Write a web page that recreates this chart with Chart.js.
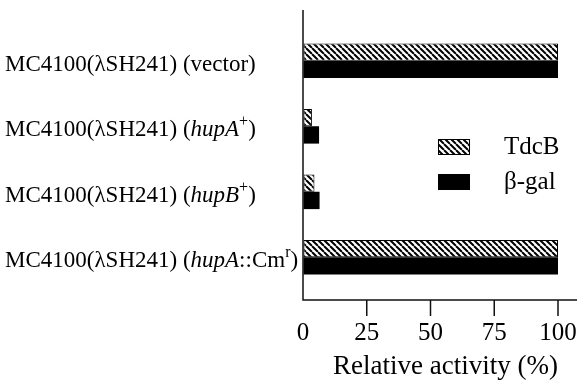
<!DOCTYPE html>
<html>
<head>
<meta charset="utf-8">
<script src="https://cdn.jsdelivr.net/npm/chart.js@4.4.1/dist/chart.umd.min.js"></script>
<style>
  body { margin: 0; background: #fff; }
</style>
</head>
<body>
<canvas id="myCanvas" width="579" height="384"></canvas>
<script>
// strains, top to bottom (<i> = italic, <sup> = superscript)
const categories = [
    'MC4100(λSH241) (vector)',
    'MC4100(λSH241) (<i>hupA</i><sup>+</sup>)',
    'MC4100(λSH241) (<i>hupB</i><sup>+</sup>)',
    'MC4100(λSH241) (<i>hupA</i>::Cm<sup>r</sup>)'
]
const seriesNames = ['TdcB', 'β-gal']
const tdcbValues = [100, 3.5, 4.5, 100]
const bgalValues = [100, 6.3, 6.5, 100]
const xTicks = [0, 25, 50, 75, 100]
const axisTitle = 'Relative activity (%)'

const FONT = '"Liberation Serif", "Times New Roman", serif'

function plain(s) {
    return s.replace(/<\/?(i|sup)>/g, '')
}

function hatch() {
    const s = 6
    const c = document.createElement('canvas')
    c.width = s
    c.height = s
    const g = c.getContext('2d')
    g.fillStyle = '#fff'
    g.fillRect(0, 0, s, s)
    g.strokeStyle = '#000'
    g.lineWidth = 2
    g.beginPath()
    for (let k = -1; k <= 1; k++) {
        g.moveTo(k * s, 0)
        g.lineTo(k * s + s, s)
    }
    g.stroke()
    return g.createPattern(c, 'repeat')
}

// draws a label with italic / superscript parts
function drawRich(ctx, str, x, y) {
    const parts = str.split(/(<i>.*?<\/i>|<sup>.*?<\/sup>)/).filter(p => p)
    ctx.textBaseline = 'middle'
    ctx.textAlign = 'left'
    parts.forEach(p => {
        let text = p, dy = 0
        ctx.font = '23px ' + FONT
        if (p.startsWith('<i>')) {
            text = p.slice(3, -4)
            ctx.font = 'italic 23px ' + FONT
        } else if (p.startsWith('<sup>')) {
            text = p.slice(5, -6)
            ctx.font = '16px ' + FONT
            dy = -8
        }
        ctx.fillText(text, x, y + dy)
        x += ctx.measureText(text).width
    })
}

const axesPlugin = {
    id: 'axes',
    afterDatasetsDraw(chart) {
        const { ctx, chartArea: a, scales: { x, y } } = chart
        const base = a.bottom + 10
        ctx.save()

        ctx.strokeStyle = '#111'
        ctx.lineWidth = 1.5
        ctx.beginPath()
        ctx.moveTo(a.left, 10)
        ctx.lineTo(a.left, base)
        ctx.lineTo(a.right + 19, base)
        xTicks.forEach(v => {
            if (v > 0) {
                const px = x.getPixelForValue(v)
                ctx.moveTo(px, base)
                ctx.lineTo(px, base + 16)
            }
        })
        ctx.stroke()

        ctx.fillStyle = '#000'
        categories.forEach((lab, i) => {
            drawRich(ctx, lab, 5, y.getPixelForTick(i) + 4)
        })

        // legend
        chart.data.datasets.forEach((ds, i) => {
            const ly = a.top + 119 + i * 35
            const lx = a.left + 135
            ctx.fillStyle = ds.backgroundColor
            ctx.fillRect(lx, ly - 8, 32, 16)
            if (ds.borderWidth) {
                ctx.lineWidth = 1
                ctx.strokeStyle = '#000'
                ctx.strokeRect(lx + 0.5, ly - 7.5, 31, 15)
            }
            ctx.fillStyle = '#000'
            ctx.font = '25px ' + FONT
            ctx.textBaseline = 'middle'
            ctx.fillText(ds.label, lx + 66, ly)
        })
        ctx.restore()
    }
}

const ctx = document.getElementById('myCanvas').getContext('2d')
const pattern = hatch()

new Chart(ctx, {
    type: 'bar',
    data: {
        labels: categories.map(plain),
        datasets: [
            {
                label: seriesNames[0],
                data: tdcbValues,
                backgroundColor: pattern,
                borderColor: '#000',
                borderWidth: 1,
                borderSkipped: false,
            },
            {
                label: seriesNames[1],
                data: bgalValues,
                backgroundColor: '#000',
                borderWidth: 0,
            },
        ],
    },
    options: {
        indexAxis: 'y',
        responsive: false,
        animation: false,
        devicePixelRatio: 1,
        layout: { padding: { left: 303, top: 28, right: 21, bottom: 1 } },
        datasets: { bar: { categoryPercentage: 0.53, barPercentage: 1 } },
        plugins: {
            legend: { display: false },
            tooltip: { enabled: false },
        },
        scales: {
            x: {
                min: 0,
                max: 100,
                afterBuildTicks: (s) => { s.ticks = xTicks.map(v => ({ value: v })) },
                afterFit: (s) => {
                    s.height = 93
                    s.paddingLeft = 0
                    s.paddingRight = 0
                },
                ticks: { color: '#000', font: { family: FONT, size: 25 }, padding: 3 },
                grid: { drawOnChartArea: false, drawTicks: true, tickLength: 25, color: 'rgba(0,0,0,0)' },
                border: { display: false },
                title: {
                    display: true,
                    text: axisTitle,
                    align: 'end',
                    color: '#000',
                    font: { family: FONT, size: 27 },
                    padding: { top: 0, bottom: 0 },
                },
            },
            y: { display: false },
        },
    },
    plugins: [axesPlugin],
})
</script>
</body>
</html>
